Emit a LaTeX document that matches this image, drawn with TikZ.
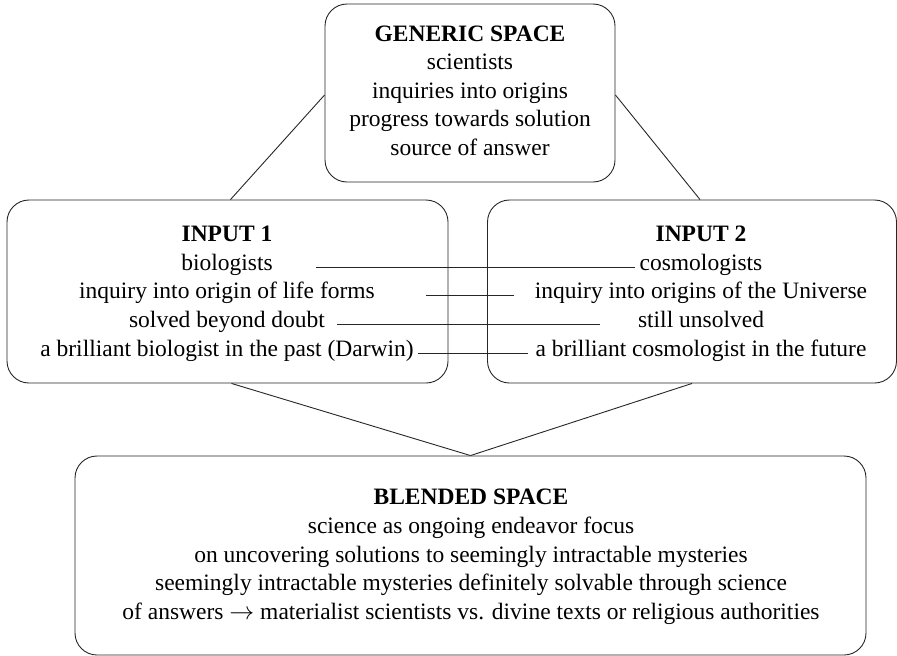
\documentclass[tikz,border=0pt]{standalone}
\usepackage{fontspec}
\setmainfont{Liberation Serif}
\usetikzlibrary{positioning}

\begin{document}
\begin{tikzpicture}[x=1pt,y=-1pt,
  space/.style={draw=black!85, rounded corners=22pt, line width=0.9pt, inner sep=0pt},
  txt/.style={anchor=base, inner sep=1pt, font=\fontsize{23.5}{28}\selectfont},
  ttl/.style={txt, font=\fontsize{23.5}{28}\selectfont\bfseries},
  link/.style={draw=black!85, line width=0.9pt}]
\useasboundingbox (0,0) rectangle (897,656);

% the four mental spaces
\node[space, minimum width=290, minimum height=178] (gen) at (470,93) {};
\node[space, minimum width=441, minimum height=183] (in1) at (227.5,291.5) {};
\node[space, minimum width=409, minimum height=183] (in2) at (692,291.5) {};
\node[space, minimum width=791, minimum height=199] (bl) at (470.5,555.5) {};

% generic space
\node[ttl] (g0) at (470,41) {GENERIC SPACE};
\node[txt] (g1) at (470,69) {scientists};
\node[txt] (g2) at (470,98) {inquiries into origins};
\node[txt] (g3) at (470,126) {progress towards solution};
\node[txt] (g4) at (470,155) {source of answer};

% input 1
\node[ttl] (a0) at (227,241) {INPUT 1};
\node[txt] (a1) at (227,270) {biologists};
\node[txt] (a2) at (227,298) {inquiry into origin of life forms};
\node[txt] (a3) at (227,327) {solved beyond doubt};
\node[txt] (a4) at (227,356) {a brilliant biologist in the past (Darwin)};

% input 2
\node[ttl] (b0) at (701,241) {INPUT 2};
\node[txt] (b1) at (701,270) {cosmologists};
\node[txt] (b2) at (701,298) {inquiry into origins of the Universe};
\node[txt] (b3) at (701,327) {still unsolved};
\node[txt] (b4) at (701,356) {a brilliant cosmologist in the future};

% blended space
\node[ttl] (c0) at (471,504) {BLENDED SPACE};
\node[txt] (c1) at (471,533) {science as ongoing endeavor focus};
\node[txt] (c2) at (471,562) {on uncovering solutions to seemingly intractable mysteries};
\node[txt] (c3) at (471,590) {seemingly intractable mysteries definitely solvable through science};
\node[txt] (c4) at (471,619) {of answers $\rightarrow$ materialist scientists vs. divine texts or religious authorities};

% network links
\draw[link] ([yshift=-2]gen.west) -- ([xshift=3]in1.north);
\draw[link] ([yshift=-2]gen.east) -- ([xshift=8]in2.north);
\draw[link] ([xshift=4]in1.south) -- (bl.north);
\draw[link] (in2.south) -- (bl.north);

% cross-space mappings
\draw[link] ([xshift=42]a1.mid east) -- ([xshift=-3]b1.mid west);
\draw[link] ([xshift=50]a2.mid east) -- ([xshift=-20]b2.mid west);
\draw[link] ([xshift=11]a3.mid east) -- ([xshift=-37]b3.mid west);
\draw[link] ([xshift=3]a4.mid east) -- ([xshift=-6]b4.mid west);
\end{tikzpicture}
\end{document}
